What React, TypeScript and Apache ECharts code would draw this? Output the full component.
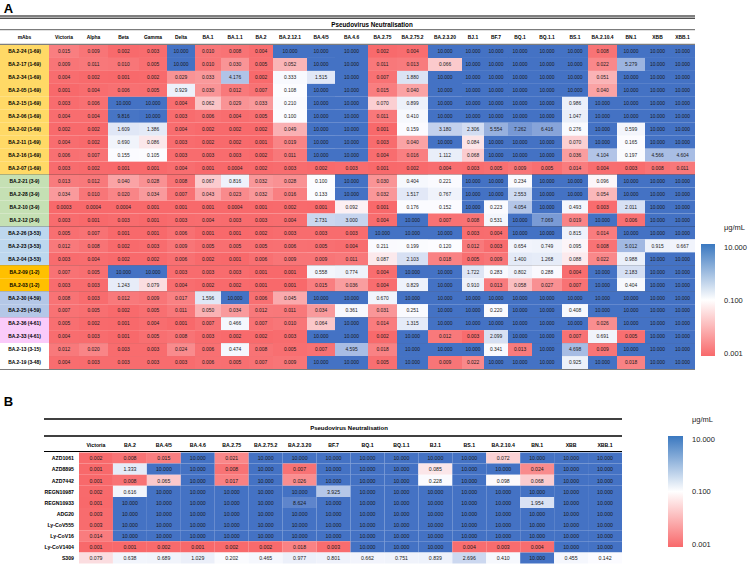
import React, { useEffect, useRef } from 'react';
import * as echarts from 'echarts';

// ---------------- DATA ----------------
const columnsA = ['Victoria', 'Alpha', 'Beta', 'Gamma', 'Delta', 'BA.1', 'BA.1.1', 'BA.2', 'BA.2.12.1', 'BA.4/5', 'BA.4.6', 'BA.2.75', 'BA.2.75.2', 'BA.2.3.20', 'BJ.1', 'BF.7', 'BQ.1', 'BQ.1.1', 'BS.1', 'BA.2.10.4', 'BN.1', 'XBB', 'XBB.1'];

const mAbsA = ['BA.2-24 (1-69)', 'BA.2-17 (1-69)', 'BA.2-34 (1-69)', 'BA.2-05 (1-69)', 'BA.2-15 (1-69)', 'BA.2-06 (1-69)', 'BA.2-02 (1-69)', 'BA.2-11 (1-69)', 'BA.2-16 (1-69)', 'BA.2-07 (1-69)',
  'BA.2-21 (3-9)', 'BA.2-28 (3-9)', 'BA.2-10 (3-9)', 'BA.2-12 (3-9)',
  'BA.2-26 (3-53)', 'BA.2-23 (3-53)', 'BA.2-04 (3-53)',
  'BA.2-09 (1-2)', 'BA.2-03 (1-2)',
  'BA.2-30 (4-59)', 'BA.2-25 (4-59)',
  'BA.2-36 (4-61)', 'BA.2-33 (4-61)',
  'BA.2-13 (3-15)', 'BA.2-19 (3-48)'];

const valuesA = [
  [0.015, 0.009, 0.002, 0.003, 10, 0.010, 0.008, 0.004, 10, 10, 10, 0.002, 0.004, 10, 10, 10, 10, 10, 10, 0.008, 10, 10, 10],
  [0.009, 0.011, 0.010, 0.005, 10, 0.010, 0.030, 0.005, 0.052, 10, 10, 0.011, 0.013, 0.066, 10, 10, 10, 10, 10, 0.022, 5.279, 10, 10],
  [0.004, 0.002, 0.001, 0.002, 0.029, 0.033, 4.176, 0.002, 0.333, 1.515, 10, 0.007, 1.880, 10, 10, 10, 10, 10, 10, 0.051, 10, 10, 10],
  [0.001, 0.004, 0.006, 0.005, 0.929, 0.030, 0.012, 0.007, 0.108, 10, 10, 0.015, 0.040, 10, 10, 10, 10, 10, 10, 0.040, 10, 10, 10],
  [0.003, 0.006, 10, 10, 0.004, 0.062, 0.029, 0.033, 0.210, 10, 10, 0.070, 0.899, 10, 10, 10, 10, 10, 0.986, 10, 10, 10, 10],
  [0.004, 0.004, 9.816, 10, 0.003, 0.006, 0.004, 0.005, 0.100, 10, 10, 0.011, 0.410, 10, 10, 10, 10, 10, 1.047, 10, 10, 10, 10],
  [0.002, 0.002, 1.609, 1.386, 0.004, 0.002, 0.002, 0.002, 0.049, 10, 10, 0.001, 0.159, 3.180, 2.306, 5.554, 7.262, 6.416, 0.276, 10, 0.599, 10, 10],
  [0.004, 0.002, 0.690, 0.086, 0.003, 0.002, 0.002, 0.001, 0.019, 10, 10, 0.003, 0.040, 10, 0.084, 10, 10, 10, 0.070, 10, 0.165, 10, 10],
  [0.006, 0.007, 0.155, 0.105, 0.003, 0.003, 0.003, 0.002, 0.011, 10, 10, 0.004, 0.016, 1.112, 0.068, 10, 10, 10, 0.036, 4.104, 0.197, 4.566, 4.604],
  [0.003, 0.002, 0.001, 0.001, 0.004, 0.001, 0.0004, 0.002, 0.003, 0.002, 0.003, 0.001, 0.002, 0.004, 0.003, 0.005, 0.009, 0.005, 0.014, 0.004, 0.003, 0.008, 0.011],
  [0.013, 0.012, 0.040, 0.028, 0.008, 0.067, 0.816, 0.032, 0.028, 0.100, 10, 0.030, 0.404, 0.221, 10, 10, 0.234, 10, 10, 0.096, 10, 10, 10],
  [0.034, 0.010, 0.020, 0.034, 0.007, 0.043, 0.023, 0.032, 0.016, 0.133, 10, 0.032, 1.517, 0.767, 10, 10, 2.553, 10, 10, 0.054, 10, 10, 10],
  [0.0003, 0.0004, 0.0004, 0.001, 0.001, 0.001, 0.0004, 0.001, 0.002, 0.001, 0.092, 0.001, 0.176, 0.152, 10, 0.223, 4.054, 10, 0.493, 0.003, 2.011, 10, 10],
  [0.003, 0.001, 0.003, 0.001, 0.003, 0.004, 0.003, 0.003, 0.004, 2.731, 3.000, 0.004, 10, 0.007, 0.008, 0.531, 10, 7.069, 0.019, 10, 0.006, 10, 10],
  [0.005, 0.007, 0.001, 0.001, 0.006, 0.001, 0.001, 0.002, 0.003, 0.003, 0.003, 10, 10, 10, 0.003, 0.004, 10, 10, 0.815, 0.014, 10, 10, 10],
  [0.012, 0.008, 0.002, 0.003, 0.009, 0.005, 0.005, 0.005, 0.006, 0.005, 0.004, 0.211, 0.199, 0.120, 0.012, 0.003, 0.654, 0.749, 0.095, 0.008, 5.012, 0.915, 0.667],
  [0.003, 0.004, 0.002, 0.002, 0.006, 0.002, 0.001, 0.006, 0.009, 0.009, 0.011, 0.087, 2.103, 0.018, 0.005, 0.009, 1.400, 1.268, 0.088, 0.022, 0.988, 10, 10],
  [0.007, 0.005, 10, 10, 0.003, 0.003, 0.003, 0.001, 0.001, 0.558, 0.774, 0.004, 10, 10, 1.722, 0.283, 0.802, 0.288, 0.004, 10, 2.183, 10, 10],
  [0.003, 0.003, 1.243, 0.079, 0.004, 0.002, 0.002, 0.001, 0.001, 0.015, 0.036, 0.004, 0.829, 10, 0.910, 0.013, 0.058, 0.027, 0.007, 10, 0.404, 10, 10],
  [0.008, 0.003, 0.012, 0.009, 0.017, 1.596, 10, 0.006, 0.045, 10, 10, 0.670, 10, 10, 10, 10, 10, 10, 10, 10, 10, 10, 10],
  [0.007, 0.005, 0.002, 0.005, 0.011, 0.050, 0.034, 0.012, 0.011, 0.034, 0.361, 0.031, 0.251, 10, 10, 0.220, 10, 10, 0.408, 10, 10, 10, 10],
  [0.005, 0.002, 0.001, 0.004, 0.001, 0.007, 0.466, 0.007, 0.010, 0.064, 10, 0.014, 1.315, 10, 10, 10, 10, 10, 10, 0.026, 10, 10, 10],
  [0.004, 0.003, 0.001, 0.005, 0.008, 0.003, 0.002, 0.002, 0.003, 10, 10, 0.002, 10, 0.012, 0.003, 2.099, 10, 10, 0.007, 0.691, 0.005, 10, 10],
  [0.012, 0.020, 0.003, 0.003, 0.024, 0.006, 0.474, 0.008, 0.005, 0.007, 4.595, 0.018, 10, 10, 10, 0.341, 0.013, 10, 4.698, 0.009, 10, 10, 10],
  [0.004, 0.003, 0.003, 0.003, 0.003, 0.006, 0.005, 0.007, 0.009, 10, 10, 0.005, 10, 0.009, 0.022, 10, 10, 10, 0.925, 10, 0.018, 10, 10],
];

const columnsB = ['Victoria', 'BA.2', 'BA.4/5', 'BA.4.6', 'BA.2.75', 'BA.2.75.2', 'BA.2.3.20', 'BF.7', 'BQ.1', 'BQ.1.1', 'BJ.1', 'BS.1', 'BA.2.10.4', 'BN.1', 'XBB', 'XBB.1'];
const mAbsB = ['AZD1061', 'AZD8895', 'AZD7442', 'REGN10987', 'REGN10933', 'ADG20', 'Ly-CoV555', 'Ly-CoV16', 'Ly-CoV1404', 'S309'];
const valuesB = [
  [0.002, 0.008, 0.015, 10, 0.021, 10, 10, 10, 10, 10, 10, 10, 0.072, 10, 10, 10],
  [0.001, 1.333, 10, 10, 0.008, 10, 0.007, 10, 10, 10, 0.085, 10, 10, 0.024, 10, 10],
  [0.001, 0.008, 0.065, 10, 0.017, 10, 0.026, 10, 10, 10, 0.228, 10, 0.098, 0.068, 10, 10],
  [0.002, 0.616, 10, 10, 10, 10, 10, 3.925, 10, 10, 10, 10, 10, 10, 10, 10],
  [0.001, 10, 10, 10, 10, 10, 8.624, 10, 10, 10, 10, 10, 10, 1.954, 10, 10],
  [0.003, 10, 10, 10, 10, 10, 10, 10, 10, 10, 10, 10, 10, 10, 10, 10],
  [0.003, 10, 10, 10, 10, 10, 10, 10, 10, 10, 10, 10, 10, 10, 10, 10],
  [0.014, 10, 10, 10, 10, 10, 10, 10, 10, 10, 10, 10, 10, 10, 10, 10],
  [0.001, 0.001, 0.002, 0.001, 0.002, 0.002, 0.018, 0.003, 10, 10, 10, 0.004, 0.003, 0.004, 10, 10],
  [0.079, 0.638, 0.689, 1.029, 0.202, 0.465, 0.977, 0.801, 0.662, 0.751, 0.839, 2.696, 0.410, 10, 0.455, 0.142],
];

const scaleStops = [0.001, 0.1, 10];
const legendLabels = ['10.000', '0.100', '0.001'];
const unitLabel = 'μg/mL';
const tableTitle = 'Pseudovirus Neutralisation';

// ---------------- LAYOUT / STYLE ----------------
const FONT = 'Liberation Sans';
const RED = '#F8696B';
const WHITE = '#FCFCFF';
const BLUE = '#4472C4';

const gridA = { left: 0, top: 45, width: 695, height: 324 };
const edgesA = [0, 49, 79, 108, 139, 167, 195, 221, 249, 273, 307, 335, 368, 397, 428, 462, 484, 508, 532, 562, 588, 617, 645, 670, 695];
const gridB = { left: 44, top: 452.5, width: 578, height: 111 };
const labelWB = 35;
const edgesB = [0, ...Array.from({ length: columnsB.length + 1 }, (_, i) => labelWB + (i * (gridB.width - labelWB)) / columnsB.length)];

const groupColors: Record<string, string> = {
  '1-69': '#FFD966', '3-9': '#C5E0B4', '3-53': '#BDD7EE', '1-2': '#FFC000',
  '4-59': '#B4C7E7', '4-61': '#FACBFA', '3-15': '#FFFFFF', '3-48': '#FFFFFF',
};
const groupOf = (s: string) => { const m = s.match(/\(([^)]*)\)/); return m ? m[1] : ''; };

// piecewise-linear colour position: 0.001 -> 0, 0.1 -> 1, 10 -> 2
const toT = (v: number) => {
  if (v <= scaleStops[1]) return Math.max(0, (v - scaleStops[0]) / (scaleStops[1] - scaleStops[0]));
  return Math.min(2, 1 + (v - scaleStops[1]) / (scaleStops[2] - scaleStops[1]));
};
const fmt = (v: number) => (v >= 0.001 ? v.toFixed(3) : v.toFixed(4));

const txt = (text: string, x: number, y: number, size: number, opts: any = {}) => ({
  type: 'text', x, y, silent: true,
  style: {
    text, fill: opts.fill || '#111', fontSize: size, fontFamily: FONT, fontWeight: opts.bold ? 'bold' : 'normal',
    align: opts.align || 'center', textAlign: opts.align || 'center', verticalAlign: 'middle', textVerticalAlign: 'middle',
  },
});

const cellRender = (edges: number[], fs: number) => (params: any, api: any) => {
  const c = api.value(0) as number;
  const r = api.value(1) as number;
  const v = api.value(3) as number;
  const p0 = api.coord([edges[c + 1], r]);
  const p1 = api.coord([edges[c + 2], r + 1]);
  const x = p0[0], y = p0[1], w = p1[0] - p0[0], h = p1[1] - p0[1];
  return {
    type: 'group',
    children: [
      { type: 'rect', shape: { x, y, width: w, height: h }, style: { fill: api.visual('color') } },
      txt(fmt(v), x + w / 2, y + h / 2 + 0.3, fs, { fill: '#1a1a1a' }),
    ],
  };
};

const buildOption = () => {
  const cellsA = valuesA.flatMap((row, r) => row.map((v, c) => [c, r, toT(v), v]));
  const cellsB = valuesB.flatMap((row, r) => row.map((v, c) => [c, r, toT(v), v]));
  const nA = mAbsA.length;
  const nB = mAbsB.length;
  const rowHA = gridA.height / nA;

  const graphics: any[] = [];
  const line = (x1: number, y1: number, x2: number, y2: number, lw: number, stroke = '#000') =>
    graphics.push({ type: 'line', silent: true, shape: { x1, y1, x2, y2 }, style: { stroke, lineWidth: lw } });

  // Panel A decorations
  graphics.push(txt('A', 8.5, 8, 13, { bold: true, fill: '#000' }));
  line(0, 16, 695, 16, 1);
  line(0, 18.2, 695, 18.2, 1);
  graphics.push(txt(tableTitle, 372, 24.8, 6.3, { bold: true, fill: '#000' }));
  line(0, 29.7, 695, 29.7, 0.8, '#333');
  line(0, 44.3, 695, 44.3, 0.8, '#333');
  for (let r = 1; r < nA; r++) {
    if (groupOf(mAbsA[r]) !== groupOf(mAbsA[r - 1])) {
      const y = gridA.top + r * rowHA;
      line(0, y, 695, y, 1.1, '#222');
    }
  }
  line(0, gridA.top + gridA.height + 0.3, 695, gridA.top + gridA.height + 0.3, 0.8, '#333');

  // Legend A
  const legend = (bx: number, by: number, bw: number, bh: number, tx: number, uy: number) => {
    graphics.push(txt(unitLabel, tx, uy, 7.5, { align: 'left', fill: '#222' }));
    graphics.push({
      type: 'rect', silent: true, shape: { x: bx, y: by, width: bw, height: bh },
      style: {
        fill: new echarts.graphic.LinearGradient(0, 0, 0, 1, [
          { offset: 0, color: '#3A78C0' }, { offset: 0.5, color: '#FFFFFF' }, { offset: 1, color: RED },
        ]),
      },
    });
    legendLabels.forEach((l, i) => graphics.push(txt(l, tx, by + 3 + i * (bh - 6) / 2, 7.5, { align: 'left', fill: '#222' })));
  };
  legend(701, 244, 14, 112, 724, 227);

  // Panel B decorations
  graphics.push(txt('B', 8.5, 401.5, 13, { bold: true, fill: '#000' }));
  line(44, 419, 622, 419, 1.5);
  graphics.push(txt(tableTitle, 349, 428.3, 6, { bold: true, fill: '#000' }));
  line(44, 436, 622, 436, 1.5);
  line(44, 451.5, 622, 451.5, 1.2);
  legend(668, 436, 15, 111, 692, 419);

  return {
    animation: false,
    backgroundColor: '#ffffff',
    grid: [
      { ...gridA, containLabel: false },
      { ...gridB, containLabel: false },
    ],
    xAxis: [
      { type: 'value', gridIndex: 0, min: 0, max: gridA.width, show: false },
      { type: 'value', gridIndex: 1, min: 0, max: gridB.width, show: false },
    ],
    yAxis: [
      { type: 'value', gridIndex: 0, min: 0, max: nA, inverse: true, show: false },
      { type: 'value', gridIndex: 1, min: 0, max: nB, inverse: true, show: false },
    ],
    visualMap: {
      type: 'continuous', show: false, min: 0, max: 2, dimension: 2, seriesIndex: [0, 3],
      inRange: { color: [RED, WHITE, BLUE] },
    },
    series: [
      {
        type: 'custom', coordinateSystem: 'cartesian2d', xAxisIndex: 0, yAxisIndex: 0, silent: true,
        data: cellsA, renderItem: cellRender(edgesA, 4.9),
      },
      {
        type: 'custom', coordinateSystem: 'cartesian2d', xAxisIndex: 0, yAxisIndex: 0, silent: true,
        data: mAbsA.map((_, r) => [0, r]),
        renderItem: (params: any, api: any) => {
          const r = api.value(1) as number;
          const p0 = api.coord([edgesA[0], r]);
          const p1 = api.coord([edgesA[1], r + 1]);
          const label = mAbsA[params.dataIndex];
          return {
            type: 'group',
            children: [
              { type: 'rect', shape: { x: p0[0], y: p0[1], width: p1[0] - p0[0], height: p1[1] - p0[1] }, style: { fill: groupColors[groupOf(label)] || '#fff' } },
              txt(label, (p0[0] + p1[0]) / 2, (p0[1] + p1[1]) / 2 + 0.3, 4.9, { bold: true, fill: '#000' }),
            ],
          };
        },
      },
      {
        type: 'custom', coordinateSystem: 'cartesian2d', xAxisIndex: 0, yAxisIndex: 0, silent: true, clip: false,
        data: ['mAbs', ...columnsA].map((_, i) => [i, -0.55]),
        renderItem: (params: any, api: any) => {
          const i = api.value(0) as number;
          const p = api.coord([(edgesA[i] + edgesA[i + 1]) / 2, api.value(1)]);
          return txt(['mAbs', ...columnsA][i], p[0], p[1], 4.9, { bold: true, fill: '#000' });
        },
      },
      {
        type: 'custom', coordinateSystem: 'cartesian2d', xAxisIndex: 1, yAxisIndex: 1, silent: true,
        data: cellsB, renderItem: cellRender(edgesB, 5.2),
      },
      {
        type: 'custom', coordinateSystem: 'cartesian2d', xAxisIndex: 1, yAxisIndex: 1, silent: true,
        data: mAbsB.map((_, r) => [edgesB[1], r + 0.5]),
        renderItem: (params: any, api: any) => {
          const p = api.coord([api.value(0), api.value(1)]);
          return txt(mAbsB[params.dataIndex], p[0] - 5, p[1] + 0.3, 5.2, { bold: true, fill: '#000', align: 'right' });
        },
      },
      {
        type: 'custom', coordinateSystem: 'cartesian2d', xAxisIndex: 1, yAxisIndex: 1, silent: true, clip: false,
        data: columnsB.map((_, i) => [i, -0.7]),
        renderItem: (params: any, api: any) => {
          const i = api.value(0) as number;
          const p = api.coord([(edgesB[i + 1] + edgesB[i + 2]) / 2, api.value(1)]);
          return txt(columnsB[i], p[0], p[1], 5.2, { bold: true, fill: '#000' });
        },
      },
    ],
    graphic: graphics,
  };
};

export default function App() {
  const ref = useRef<HTMLDivElement>(null);
  useEffect(() => {
    if (!ref.current) return;
    const chart = echarts.init(ref.current, null, { renderer: 'svg' });
    chart.setOption(buildOption() as any);
    return () => chart.dispose();
  }, []);
  return (
    <div
      ref={ref}
      style={{ position: 'absolute', left: 0, top: 0, width: 748, height: 567, background: '#fff' }}
    />
  );
}
